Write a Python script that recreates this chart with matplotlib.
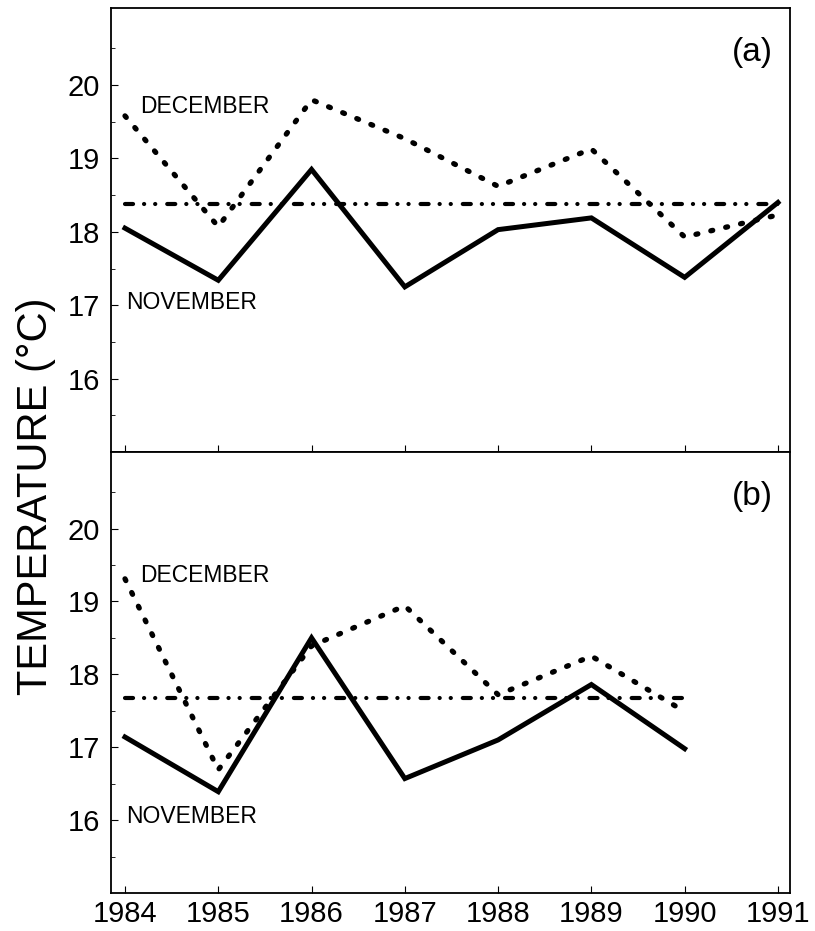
import numpy as np
import matplotlib
matplotlib.use("Agg")
import matplotlib.pyplot as plt

plt.rcParams['font.family'] = ['Liberation Sans', 'DejaVu Sans']
plt.rcParams['lines.scale_dashes'] = False

years_a = [1984, 1985, 1986, 1987, 1988, 1989, 1990, 1991]
nov_a = [18.05, 17.34, 18.85, 17.25, 18.03, 18.19, 17.38, 18.40]
dec_a = [19.58, 18.07, 19.80, 19.27, 18.62, 19.13, 17.93, 18.23]
mean_a = 18.38

years_b = [1984, 1985, 1986, 1987, 1988, 1989, 1990]
nov_b = [17.14, 16.39, 18.50, 16.57, 17.10, 17.86, 16.98]
dec_b = [19.31, 16.69, 18.39, 18.94, 17.72, 18.25, 17.49]
mean_b = 17.67

xticks = [1984, 1985, 1986, 1987, 1988, 1989, 1990, 1991]
yticks = [16, 17, 18, 19, 20]

fig = plt.figure(figsize=(8.15, 9.31), dpi=100)
ax1 = fig.add_axes([0.1362, 0.5145, 0.8332, 0.4769])
ax2 = fig.add_axes([0.1362, 0.0408, 0.8332, 0.4737])

dot_style = dict(color='black', lw=3.8, dashes=(1.4, 9.6), dash_capstyle='round')
mean_style = dict(color='black', lw=3.0, dashes=(5.8, 7.9, 0.1, 7.9, 0.1, 8.6),
                  dash_capstyle='round')

panels = [(ax1, years_a, nov_a, dec_a, mean_a, '(a)', 19.71, 17.04),
          (ax2, years_b, nov_b, dec_b, mean_b, '(b)', 19.35, 16.05)]

for ax, yrs, nov, dec, mu, tag, dec_y, nov_y in panels:
    ax.plot(yrs, nov, color='black', lw=3.6, solid_joinstyle='miter')
    ax.plot(yrs, dec, **dot_style)
    ax.plot([yrs[0], yrs[-1]], [mu, mu], **mean_style)

    ax.text(1984.16, dec_y, 'DECEMBER', fontsize=16.5, va='center', ha='left')
    ax.text(1984.01, nov_y, 'NOVEMBER', fontsize=16.5, va='center', ha='left')
    ax.text(0.975, 0.90, tag, transform=ax.transAxes, fontsize=24,
            ha='right', va='center')

    ax.set_xlim(1983.85, 1991.13)
    ax.set_ylim(15, 21.05)
    ax.set_xticks(xticks)
    ax.set_yticks(yticks)
    ax.set_yticks(np.arange(15.5, 21, 0.5), minor=True)
    ax.tick_params(axis='both', which='major', direction='in', length=5,
                   width=0.8, labelsize=21, top=False, right=False)
    ax.tick_params(axis='y', which='minor', direction='in', length=3, width=0.6)
    ax.tick_params(axis='y', pad=8)
    for s in ax.spines.values():
        s.set_linewidth(1.3)

ax1.tick_params(axis='x', labelbottom=False)
ax2.tick_params(axis='x', pad=5)

fig.text(0.044, 0.467, 'TEMPERATURE (°C)', rotation=90, fontsize=30,
         ha='center', va='center')

fig.savefig('out.png', dpi=100)
